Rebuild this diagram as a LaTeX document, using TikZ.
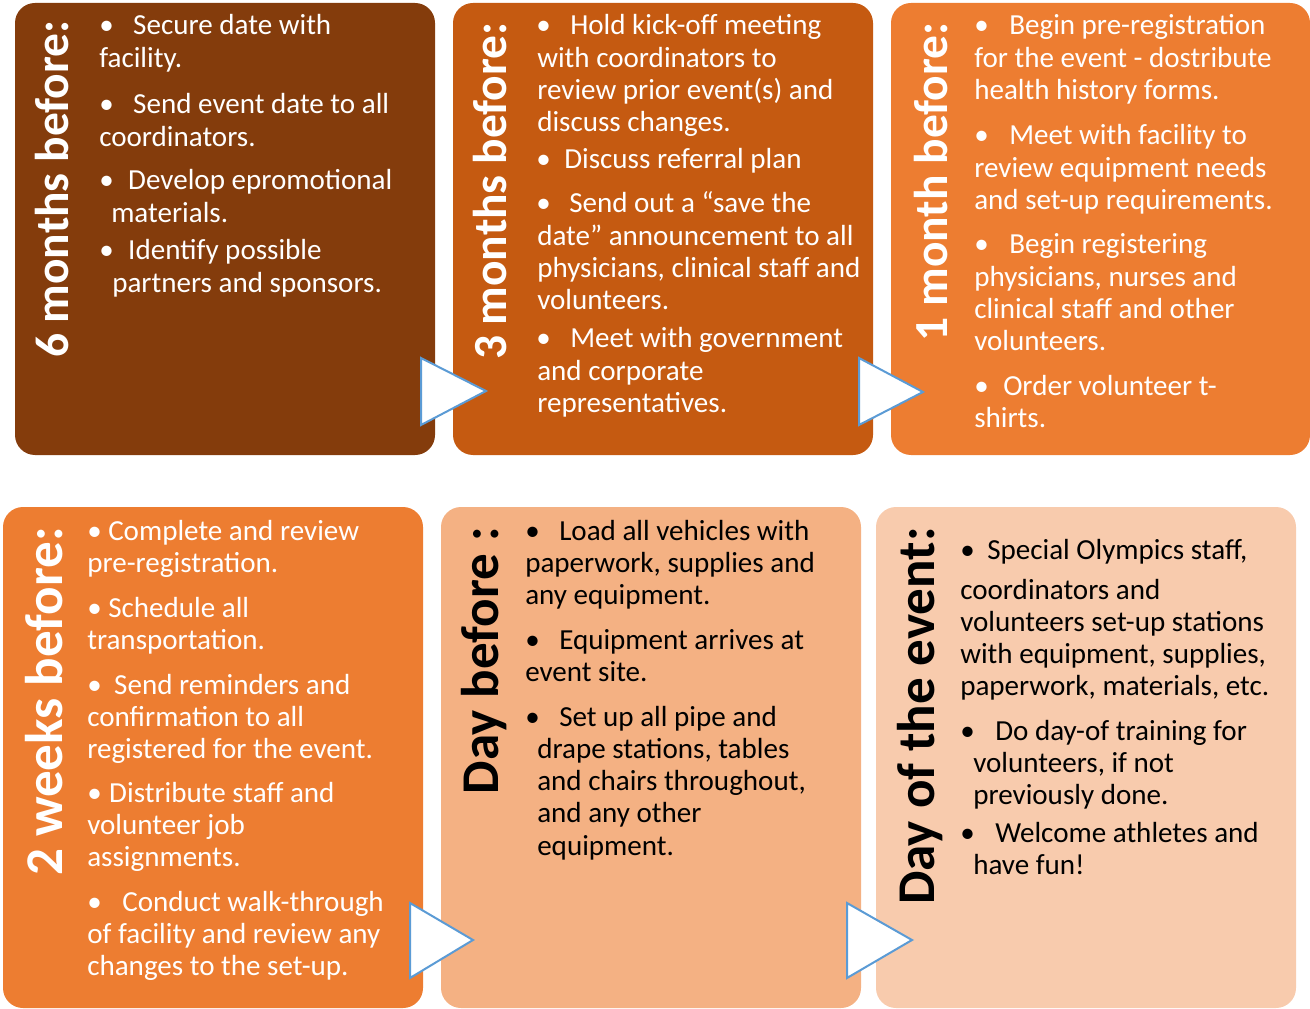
\documentclass[tikz,border=0pt]{standalone}
\usepackage{fontspec}
\setmainfont{Carlito}
\newdimen\px \px=0.75pt
\definecolor{cA}{HTML}{843C0C}
\definecolor{cB}{HTML}{C55A11}
\definecolor{cC}{HTML}{ED7D31}
\definecolor{cD}{HTML}{F4B183}
\definecolor{cE}{HTML}{F8CBAD}
\definecolor{triline}{HTML}{5B9BD5}
\newcommand\bl[2]{\hspace*{\dimexpr #1\px-7\px\relax}\makebox[\dimexpr #2\px+7\px\relax][l]{\textbullet}}
\newcommand\ls[1]{\vtop{\let\\\cr\halign{##\hfil\cr#1\crcr}}}
\tikzset{
  panel/.style={rounded corners=15pt},
  txt/.style={anchor=base west, inner sep=0pt, yshift=-1.5pt, font=\fontsize{21.8}{24.2}\selectfont},
  ttl/.style={rotate=90, anchor=base east, inner sep=0pt, font=\bfseries\fontsize{35.6}{40}\selectfont},
  ttlb/.style={ttl, font=\bfseries\fontsize{39.8}{44}\selectfont},
  tri/.style={fill=white, draw=triline, line width=1.5pt, line join=miter}
}
\begin{document}
\begin{tikzpicture}[x=0.75pt,y=-0.75pt]
\useasboundingbox (0,0) rectangle (1310,1009);
% panels
\fill[panel, cA] (15,3) rectangle (435,455);
\fill[panel, cB] (453,3) rectangle (873,455);
\fill[panel, cC] (891,3) rectangle (1310,455);
\fill[panel, cC] (3,507) rectangle (423,1008);
\fill[panel, cD] (441,507) rectangle (861,1008);
\fill[panel, cE] (876,507) rectangle (1296,1008);
% titles
\node[ttl, text=white] (t1) at (68,20) {6 months before:};
\node[ttl, text=white] (t2) at (506,22) {3 months before:};
\node[ttl, text=white] (t3) at (947,22) {1 month before:};
\node[ttlb, text=white] (t4) at (62,527) {2 weeks before:};
\node[ttlb, text=black] (t5) at (498,527) {Day before :};
\node[ttlb, text=black] (t6) at (934,527) {Day of the event:};
% box 1
\begin{scope}[every node/.style={txt, text=white}]
\node (a1) at (99,33) {\ls{\bl{7}{27}Secure date with\\facility.}};
\node (a2) at (99,112) {\ls{\bl{7}{27}Send event date to all\\coordinators.}};
\node (a3) at (111,188) {\ls{\bl{-5}{22}Develop epromotional\\materials.}};
\node (a4) at (112,258) {\ls{\bl{-6}{22}Identify possible\\partners and sponsors.}};
% box 2
\node (b1) at (537,33) {\ls{\bl{6}{27}Hold kick-off meeting\\with coordinators to\\review prior event(s) and\\discuss changes.}};
\node (b2) at (537,167) {\ls{\bl{6}{21}Discuss referral plan}};
\node (b3) at (537,211) {\ls{\bl{6}{26}Send out a “save the\\date” announcement to all\\physicians, clinical staff and\\volunteers.}};
\node (b4) at (537,346) {\ls{\bl{6}{27}Meet with government\\and corporate\\representatives.}};
% box 3
\node (c1) at (974,33) {\ls{\bl{7}{28}Begin pre-registration\\for the event - dostribute\\health history forms.}};
\node (c2) at (974,143) {\ls{\bl{7}{28}Meet with facility to\\review equipment needs\\and set-up requirements.}};
\node (c3) at (974,252) {\ls{\bl{7}{28}Begin registering\\physicians, nurses and\\clinical staff and other\\volunteers.}};
\node (c4) at (974,393) {\ls{\bl{7}{22}Order volunteer t-\\shirts.}};
% box 4
\node (d1) at (87,538) {\ls{\bl{7}{14}Complete and review\\pre-registration.}};
\node (d2) at (87,615) {\ls{\bl{7}{14}Schedule all\\transportation.}};
\node (d3) at (87,692) {\ls{\bl{7}{20}Send reminders and\\confirmation to all\\registered for the event.}};
\node (d4) at (87,800) {\ls{\bl{7}{15}Distribute staff and\\volunteer job\\assignments.}};
\node (d5) at (87,909) {\ls{\bl{7}{28}Conduct walk-through\\of facility and review any\\changes to the set-up.}};
\end{scope}
\begin{scope}[every node/.style={txt, text=black}]
% box 5
\node (e1) at (525,538) {\ls{\bl{7}{27}Load all vehicles with\\paperwork, supplies and\\any equipment.}};
\node (e2) at (525,647) {\ls{\bl{7}{27}Equipment arrives at\\event site.}};
\node (e3) at (537,724) {\ls{\bl{-5}{27}Set up all pipe and\\drape stations, tables\\and chairs throughout,\\and any other\\equipment.}};
% box 6
\node (f1) at (960,557) {\ls{\bl{7}{20}Special Olympics staff,\\\noalign{\vskip5.8pt}coordinators and\\volunteers set-up stations\\with equipment, supplies,\\paperwork, materials, etc.}};
\node (f2) at (973,738) {\ls{\bl{-6}{28}Do day-of training for\\volunteers, if not\\previously done.}};
\node (f3) at (973,840) {\ls{\bl{-6}{28}Welcome athletes and\\have fun!}};
\end{scope}
% arrows
\filldraw[tri] (421,358) -- (486,391) -- (421,425) -- cycle;
\filldraw[tri] (859,358) -- (923,392) -- (859,425) -- cycle;
\filldraw[tri] (410,903) -- (473,940) -- (410,978) -- cycle;
\filldraw[tri] (847,903) -- (912,940) -- (847,978) -- cycle;
\end{tikzpicture}
\end{document}
